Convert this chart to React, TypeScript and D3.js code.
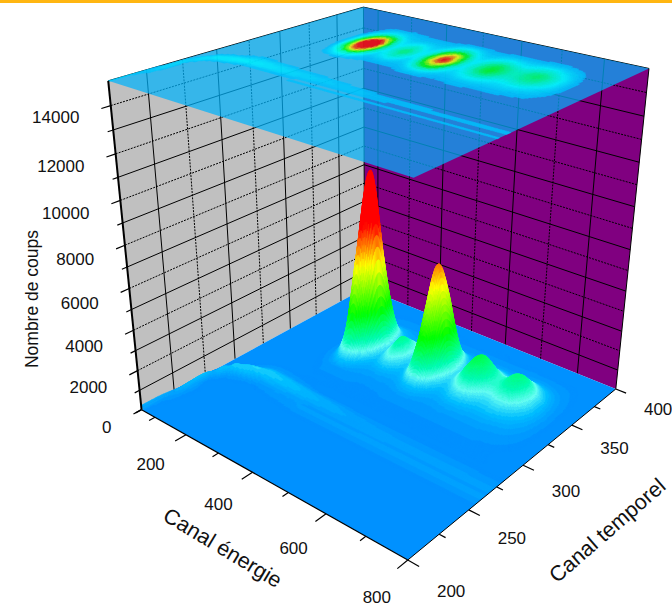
import React, { useMemo } from "react";
import * as d3 from "d3";

const energyChannels = [55,65,80,95,110,130,150,175,200,220,240,255,270,285,300,320,340,360,380,400,420,440,460,475,490,510,530,550,570,590,610,630,650,670,690,710,730,760,800];
const timeChannels = [200,215,235,250,255,260,265,270,275,280,290,300,310,320,330,340,350,360,370,380,400];
const counts = [
[220,20,0,0,0,0,0,0,0,0,0,0,0,0,0,0,0,0,0,0,0,0,0,0,0,0,0,0,0,0,0,0,0,0,0,0,0,0,0],
[200,60,10,0,0,0,0,0,0,0,0,0,0,0,0,0,0,0,0,0,0,0,0,0,0,0,0,0,0,0,0,0,0,0,0,0,0,0,0],
[30,260,60,10,0,0,0,0,0,0,0,0,0,0,0,0,0,0,0,0,0,0,0,0,0,0,0,0,0,0,0,0,0,0,0,0,0,0,0],
[0,240,70,10,0,0,0,0,0,0,0,0,0,0,0,0,0,0,0,0,0,0,0,0,0,0,0,0,0,0,0,0,0,0,0,0,0,0,0],
[0,120,260,50,20,10,0,0,0,0,10,10,10,20,20,20,20,20,20,20,20,20,20,20,20,20,20,20,20,20,20,20,20,20,20,20,20,20,20],
[0,50,320,240,140,70,30,20,30,40,50,50,60,60,80,100,100,100,100,100,100,100,100,100,100,100,100,100,100,100,100,100,100,100,100,100,100,100,100],
[0,10,100,390,400,340,230,150,130,130,130,120,120,115,110,90,88,85,85,85,85,85,85,85,85,85,85,85,85,85,85,85,85,85,85,85,85,85,85],
[0,0,10,140,280,400,430,390,360,340,320,300,285,260,245,220,205,190,180,160,150,140,135,135,125,125,125,115,115,115,115,105,105,105,105,105,105,100,100],
[0,0,0,20,50,120,230,320,310,290,270,250,235,210,200,180,165,150,140,120,105,95,90,85,80,70,70,65,65,65,65,65,65,65,65,65,65,60,60],
[0,0,0,0,10,40,90,130,120,110,90,80,70,50,40,30,30,25,25,25,20,20,20,20,20,20,20,20,20,20,20,20,20,20,20,20,20,20,20],
[0,0,0,0,0,0,0,0,0,0,10,10,10,10,10,10,10,10,10,10,10,10,10,10,10,10,10,10,10,10,10,10,10,10,10,10,10,0,0],
[0,0,0,0,0,0,0,0,0,10,30,30,30,30,30,30,20,20,20,20,30,30,30,30,30,30,30,30,30,30,30,30,30,30,20,20,10,0,0],
[0,0,0,0,0,0,0,0,10,40,110,170,190,160,110,80,70,65,70,70,85,120,130,120,100,80,81,95,95,95,90,90,90,80,70,60,40,10,0],
[0,0,0,0,0,0,0,0,30,150,630,1230,1440,1010,480,220,210,240,210,180,275,570,710,560,335,205,210,275,305,275,240,230,235,210,180,150,95,20,0],
[0,0,0,0,0,0,0,0,60,430,2420,5120,6100,4090,1630,470,560,800,550,355,790,2235,3000,2150,1040,425,475,750,920,750,550,500,570,555,435,300,175,30,0],
[0,0,0,0,0,0,0,0,80,620,3660,7950,9150,6230,2420,640,860,1330,850,500,1340,4170,5700,4010,1810,620,780,1400,1800,1400,965,940,1130,1160,850,525,250,40,0],
[0,0,0,0,0,0,0,0,65,390,2030,4210,4990,3390,1415,485,590,840,585,415,1060,3185,4320,3060,1420,535,700,1270,1640,1270,935,970,1330,1390,1000,575,250,35,0],
[0,0,0,0,0,0,0,0,40,160,530,940,1070,800,440,260,250,280,250,235,430,1050,1360,1015,550,290,355,570,680,570,480,575,730,760,550,330,155,25,0],
[0,0,0,0,0,0,0,0,20,60,140,190,195,180,145,120,105,100,105,105,140,225,255,220,165,125,130,170,185,170,165,190,230,225,175,120,66,10,0],
[0,0,0,0,0,0,0,0,5,20,40,50,50,50,45,40,35,33,35,35,40,50,50,50,45,40,40,45,45,45,46,50,50,50,40,30,20,0,0],
[0,0,0,0,0,0,0,0,0,0,0,0,0,0,0,0,0,0,0,0,0,0,0,0,0,0,0,0,0,0,0,0,0,0,0,0,0,0,0],
];
const energyTicks = [100,200,300,400,500,600,700,800];
const energyLabels = [200,400,600,800];
const timeTicks = [200,225,250,275,300,325,350,375,400];
const timeLabels = [200,250,300,350,400];
const countTicks = [0,1000,2000,3000,4000,5000,6000,7000,8000,9000,10000,11000,12000,13000,14000];
const countLabels = [2000,4000,6000,8000,10000,12000,14000];

const colorCounts = [0,300,700,1100,2400,4700,6600];
const colorRamp = ["#0091ff","#00beff","#66fff0","#00ffb0","#00ff00","#ffff00","#ff0000"];
const topColorCounts = [95,500,800,1200,2000,3800,5700];
const topColorRamp = ["#00c0fc","#00ffff","#00ffd0","#00ff90","#00ff00","#ffff00","#ff0000"];

const FONT = "'Liberation Sans', Arial, sans-serif";
const W = 672, H = 608;

const xS = d3.scaleLinear().domain([55, 800]).range([0, 1]);
const yS = d3.scaleLinear().domain([200, 400]).range([0, 1]);
const zS = d3.scaleLinear().domain([0, 15000]).range([0, 1]);

// Corners of the perspective box: [s, t, z] -> screen
const boxCorners: number[][] = [
  [0,0,0,142,410],[1,0,0,408,560],[1,1,0,616,389],[0,1,0,364,288],
  [0,0,1,108,81],[1,0,1,413,177],[1,1,1,649,69],[0,1,1,364,7],
];

function solveCamera() {
  const A: number[][] = [];
  const b: number[] = [];
  for (const [s,t,z,X,Y] of boxCorners) {
    A.push([s,t,z,1,0,0,0,0,-X*s,-X*t,-X*z]); b.push(X);
    A.push([0,0,0,0,s,t,z,1,-Y*s,-Y*t,-Y*z]); b.push(Y);
  }
  const n = 11;
  const M = Array.from({length:n},(_,i)=>{
    const r = new Array(n+1).fill(0);
    for (let j=0;j<n;j++) for (let k=0;k<A.length;k++) r[j]+=A[k][i]*A[k][j];
    for (let k=0;k<A.length;k++) r[n]+=A[k][i]*b[k];
    return r;
  });
  for (let i=0;i<n;i++){
    let p=i; for(let r=i+1;r<n;r++) if(Math.abs(M[r][i])>Math.abs(M[p][i])) p=r;
    [M[i],M[p]]=[M[p],M[i]];
    for(let r=0;r<n;r++){ if(r===i) continue; const f=M[r][i]/M[i][i]; for(let c=i;c<=n;c++) M[r][c]-=f*M[i][c]; }
  }
  return M.map((r,i)=>r[n]/r[i]);
}
const cam = solveCamera();
const project = (s:number,t:number,z:number):[number,number]=>{
  const w=cam[8]*s+cam[9]*t+cam[10]*z+1;
  return [(cam[0]*s+cam[1]*t+cam[2]*z+cam[3])/w,(cam[4]*s+cam[5]*t+cam[6]*z+cam[7])/w];
};

function hermite(xs:number[],ys:number[],x:number){
  const n=xs.length;
  let i=d3.bisectRight(xs,x)-1;
  if(i<0) i=0; if(i>n-2) i=n-2;
  const h=xs[i+1]-xs[i];
  const tan=(j:number)=>{
    if(j<=0) return (ys[1]-ys[0])/(xs[1]-xs[0]);
    if(j>=n-1) return (ys[n-1]-ys[n-2])/(xs[n-1]-xs[n-2]);
    const h0=xs[j]-xs[j-1],h1=xs[j+1]-xs[j];
    return ((ys[j+1]-ys[j])/h1*h0+(ys[j]-ys[j-1])/h0*h1)/(h0+h1);
  };
  const u=(x-xs[i])/h;
  const m0=tan(i),m1=tan(i+1);
  const dy=ys[i+1]-ys[i];
  const v=ys[i]+u*(h*m0+u*(3*dy-2*h*m0-h*m1+u*(h*m0+h*m1-2*dy)));
  return Math.max(0,v);
}

function buildFine(nS:number,nT:number){
  const es=d3.range(nS+1).map(i=>xS.invert(i/nS));
  const ts=d3.range(nT+1).map(i=>yS.invert(i/nT));
  const nCols=energyChannels.length;
  const columns=d3.range(nCols).map(c=>counts.map(r=>r[c]));
  return ts.map(t=>{
    const colVals=columns.map(col=>hermite(timeChannels,col,t));
    return es.map(e=>hermite(energyChannels,colVals,e));
  });
}

const bandIndex=d3.scaleLinear().domain(colorCounts).range(d3.range(colorCounts.length)).clamp(true);
const rampColor=d3.scaleLinear<string>().domain(d3.range(colorRamp.length)).range(colorRamp).interpolate(d3.interpolateRgb);
const colorOf=(z:number)=>{
  const k=bandIndex(z);
  return rampColor(k<3?Math.round(k*5)/5:Math.round(k*16)/16);
};
const topIndex=d3.scaleLinear().domain(topColorCounts).range(d3.range(topColorCounts.length)).clamp(true);
const topRamp=d3.scaleLinear<string>().domain(d3.range(topColorRamp.length)).range(topColorRamp).interpolate(d3.interpolateRgb);
const topColorOf=(z:number)=>topRamp(Math.round(topIndex(z)*10)/10);

const poly=(pts:[number,number][])=>"M"+pts.map(p=>p[0].toFixed(1)+","+p[1].toFixed(1)).join("L")+"Z";
const seg=d3.line();

export default function App(){
  const {surface,topMap}=useMemo(()=>{
    const nS=320,nT=220;
    const f=buildFine(nS,nT);
    const runs:{fill:string,d:string}[]=[];
    for(let i=0;i<nS;i++){
      for(let j=nT-1;j>=0;j--){
        const a=f[j][i],b=f[j][i+1],c=f[j+1][i+1],dd=f[j+1][i];
        const avg=(a+b+c+dd)/4;
        if(avg<8) continue;
        const fill=colorOf(avg);
        const d=poly([project(i/nS,j/nT,zS(a)),project((i+1)/nS,j/nT,zS(b)),project((i+1)/nS,(j+1)/nT,zS(c)),project(i/nS,(j+1)/nT,zS(dd))]);
        const last=runs[runs.length-1];
        if(last&&last.fill===fill) last.d+=d; else runs.push({fill,d});
      }
    }
    const groups=new Map<string,string>();
    for(let i=0;i<nS;i+=2) for(let j=0;j<nT;j+=2){
      const z=(f[j][i]+f[j][i+2]+f[j+2][i+2]+f[j+2][i])/4;
      if(z<95) continue;
      const fill=topColorOf(z);
      const d=poly([project(i/nS,j/nT,1),project((i+2)/nS,j/nT,1),project((i+2)/nS,(j+2)/nT,1),project(i/nS,(j+2)/nT,1)]);
      groups.set(fill,(groups.get(fill)||"")+d);
    }
    return {surface:runs,topMap:Array.from(groups.entries())};
  },[]);

  const leftWall=poly([project(0,0,0),project(0,0,1),project(0,1,1),project(0,1,0)]);
  const backWall=poly([project(0,1,0),project(0,1,1),project(1,1,1),project(1,1,0)]);
  const topPlane=poly([project(0,0,1),project(1,0,1),project(1,1,1),project(0,1,1)]);
  const floorPlane=poly([project(0,0,0),project(1,0,0),project(1,1,0),project(0,1,0)]);
  const majorZ=(v:number)=>v%2000===0, majorX=(v:number)=>v%200===0, majorY=(v:number)=>v%50===0;
  const gridStyle=(major:boolean)=>major?{strokeDasharray:"2 1.2",strokeWidth:1}:{strokeWidth:1};

  return (
    <svg width={W} height={H} viewBox={`0 0 ${W} ${H}`} style={{position:"fixed",left:0,top:0,background:"#fff"}} fontFamily={FONT}>
      <rect x={0} y={0} width={W} height={3} fill="#ffb612"/>
      <path d={leftWall} fill="#c0c0c0"/>
      <path d={backWall} fill="#800080"/>
      <g fill="none" stroke="#000">
        {countTicks.slice(1).map(v=>(
          <g key={"gz"+v} {...gridStyle(majorZ(v))}>
            <path d={seg([project(0,0,zS(v)),project(0,1,zS(v))])!}/>
            <path d={seg([project(0,1,zS(v)),project(1,1,zS(v))])!}/>
          </g>
        ))}
        {timeTicks.slice(1,-1).map(v=>(
          <path key={"gy"+v} {...gridStyle(majorY(v))} d={seg([project(0,yS(v),0),project(0,yS(v),1)])!}/>
        ))}
        {energyTicks.slice(0,-1).map(v=>(
          <path key={"gx"+v} {...gridStyle(majorX(v))} d={seg([project(xS(v),1,0),project(xS(v),1,1)])!}/>
        ))}
        <path d={seg([project(0,1,0),project(0,1,1)])!} strokeWidth={1}/>
        <path d={seg([project(0,0,1),project(0,1,1)])!} strokeWidth={1}/>
        <path d={seg([project(0,1,1),project(1,1,1)])!} strokeWidth={1}/>
        <path d={seg([project(1,1,0),project(1,1,1)])!} strokeWidth={1}/>
      </g>
      <path d={topPlane} fill="#00b2fa" opacity={0.72}/>
      <g opacity={0.85}>
        {topMap.map(([fill,d])=><path key={fill} d={d} fill={fill} stroke={fill} strokeWidth={0.5}/>)}
      </g>
      <path d={floorPlane} fill={colorRamp[0]}/>
      <g>
        {surface.map((r,i)=><path key={i} d={r.d} fill={r.fill} stroke={r.fill} strokeWidth={0.5}/>)}
      </g>
      <g fill="none" stroke="#000">
        <path d={seg([project(0,0,0),project(0,0,1)])!} strokeWidth={2}/>
        <path d={seg([project(0,0,0),project(1,0,0)])!} strokeWidth={1.2}/>
        <path d={seg([project(1,0,0),project(1,1,0)])!} strokeWidth={1}/>
        {countTicks.map(v=>(
          <path key={"tz"+v} strokeWidth={1.2} d={seg([project(0,0,zS(v)),project(0,majorZ(v)?-0.03:-0.018,zS(v))])!}/>
        ))}
        {[...energyTicks,55].map(v=>(
          <path key={"tx"+v} strokeWidth={1.2} d={seg([project(xS(v),0,0),project(xS(v),majorX(v)?-0.04:-0.022,0)])!}/>
        ))}
        {timeTicks.map(v=>(
          <path key={"ty"+v} strokeWidth={1.2} d={seg([project(1,yS(v),0),project(majorY(v)?1.035:1.02,yS(v),0)])!}/>
        ))}
      </g>
      <g fontSize={17} fill="#111">
        {[0,...countLabels].map(v=>{
          const p=project(0,-0.03,zS(v));
          return <text key={v} x={p[0]-22} y={p[1]+19-5*v/14000} textAnchor="end">{v}</text>;
        })}
        {energyLabels.map(v=>{
          const p=project(xS(v),-0.04,0);
          return <text key={v} x={p[0]-25.5+5*xS(v)} y={p[1]+28+6*xS(v)} textAnchor="middle">{v}</text>;
        })}
        {timeLabels.map(v=>{
          const p=project(1.035,yS(v),0);
          return <text key={v} x={p[0]+32} y={p[1]+31-9*yS(v)} textAnchor="middle">{v}</text>;
        })}
        <text transform="translate(38,299) rotate(-90)" textAnchor="middle" fontSize={17.5}>Nombre de coups</text>
      </g>
      <g fontSize={21.5} fill="#111">
        <text transform="translate(219,554) rotate(31)" textAnchor="middle">Canal énergie</text>
        <text transform="translate(612,536) rotate(-41)" textAnchor="middle">Canal temporel</text>
      </g>
    </svg>
  );
}
